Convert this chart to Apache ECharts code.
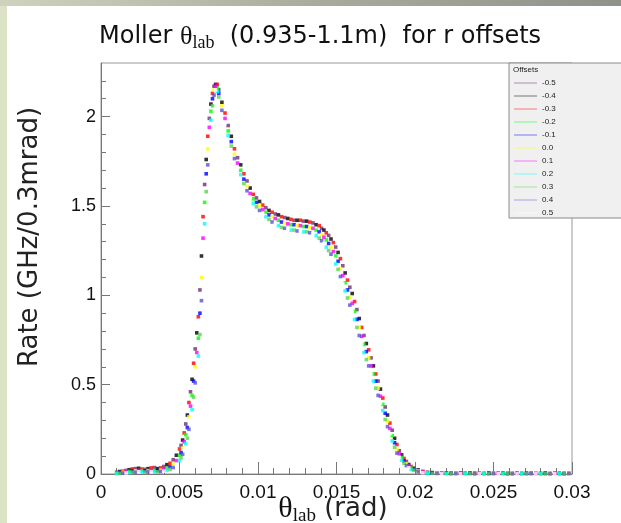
<!DOCTYPE html>
<html>
<head>
<meta charset="utf-8">
<script src="https://cdn.jsdelivr.net/npm/echarts@6/dist/echarts.min.js"></script>
<style>
html, body { margin: 0; padding: 0; background: #fff; }
#chart { width: 621px; height: 523px; }
</style>
</head>
<body>
<div id="chart"></div>
<script>
// r offsets (legend order) and their marker colours
var offsets = ['-0.5', '-0.4', '-0.3', '-0.2', '-0.1', '0.0', '0.1', '0.2', '0.3', '0.4', '0.5'];
var offsetColors = ['#6e2f6e', '#000000', '#ff0000', '#00ff00', '#0000ff', '#ffff00',
                    '#ff00ff', '#00ffff', '#59d454', '#5954d8', '#ffffff'];

// theta_lab (rad) where the curve was read
var theta = [
    0.0010, 0.0012, 0.0014, 0.0016, 0.0018, 0.0020, 0.0022, 0.0024, 0.0026, 0.0028,
    0.0030, 0.0032, 0.0034, 0.0036, 0.0038, 0.0040, 0.0042, 0.0044, 0.0046, 0.0048, 0.0050,
    0.0051, 0.0052, 0.0053, 0.0054, 0.0055, 0.0056, 0.0057, 0.0058, 0.0059, 0.0060,
    0.0061, 0.0062, 0.0063, 0.0064, 0.0065, 0.0066, 0.0067, 0.0068, 0.0069, 0.0070,
    0.0071, 0.0072, 0.0073, 0.0074, 0.0075,
    0.0077, 0.0079, 0.0081, 0.0083, 0.0085, 0.0087, 0.0089, 0.0091, 0.0093, 0.0095,
    0.0097, 0.0099, 0.0101, 0.0103, 0.0105, 0.0107, 0.0109, 0.0111, 0.0113, 0.0115,
    0.0117, 0.0119, 0.0121, 0.0123, 0.0125, 0.0127, 0.0129, 0.0131, 0.0133, 0.0135, 0.0137, 0.0139,
    0.01405, 0.0142, 0.01435, 0.0145, 0.01465, 0.0148, 0.01495, 0.0151, 0.01525, 0.0154,
    0.01555, 0.0157, 0.01585, 0.0160, 0.01615, 0.0163, 0.01645, 0.0166, 0.01675, 0.0169,
    0.01705, 0.0172, 0.01735, 0.0175, 0.01765, 0.0178, 0.01795, 0.0181, 0.01825, 0.0184,
    0.01855, 0.0187, 0.01885, 0.0190, 0.01915, 0.0193, 0.01945, 0.0196, 0.01975,
    0.0199, 0.0202, 0.0205, 0.0208, 0.0211, 0.0214, 0.0217, 0.0220, 0.0223, 0.0226,
    0.0229, 0.0232, 0.0235, 0.0238, 0.0241, 0.0244, 0.0247, 0.0250, 0.0253, 0.0256,
    0.0259, 0.0262, 0.0265, 0.0268, 0.0271, 0.0274, 0.0277, 0.0280, 0.0283, 0.0286,
    0.0289, 0.0292, 0.0295, 0.0298
];

// rate (GHz/0.3mrad): upper edge of the band (negative offsets)
var rateHigh = [
    0.010, 0.014, 0.016, 0.020, 0.024, 0.028, 0.030, 0.032, 0.028, 0.026,
    0.030, 0.034, 0.036, 0.030, 0.034, 0.042, 0.052, 0.060, 0.080, 0.105, 0.140,
    0.16, 0.19, 0.23, 0.28, 0.33, 0.40, 0.46, 0.53, 0.62, 0.70,
    0.79, 0.88, 1.03, 1.22, 1.44, 1.62, 1.76, 1.89, 1.99, 2.07,
    2.13, 2.17, 2.18, 2.18, 2.15,
    2.08, 2.02, 1.95, 1.89, 1.82, 1.77, 1.73, 1.68, 1.64, 1.60,
    1.565, 1.545, 1.525, 1.505, 1.49, 1.475, 1.465, 1.455, 1.45, 1.44,
    1.435, 1.43, 1.425, 1.42, 1.42, 1.42, 1.415, 1.415, 1.41, 1.405, 1.395, 1.39,
    1.375, 1.365, 1.35, 1.335, 1.315, 1.295, 1.27, 1.24, 1.205, 1.165,
    1.125, 1.085, 1.045, 1.01, 0.965, 0.92, 0.87, 0.82, 0.775, 0.73,
    0.695, 0.65, 0.605, 0.56, 0.52, 0.475, 0.425, 0.375, 0.33, 0.285,
    0.245, 0.20, 0.165, 0.13, 0.107, 0.087, 0.07, 0.053, 0.042,
    0.034, 0.023, 0.015, 0.010, 0.008, 0.007, 0.006, 0.006, 0.005, 0.006,
    0.005, 0.005, 0.006, 0.005, 0.005, 0.004, 0.005, 0.006, 0.005, 0.005,
    0.004, 0.005, 0.005, 0.004, 0.005, 0.005, 0.004, 0.004, 0.005, 0.004,
    0.005, 0.004, 0.004, 0.005
];

// rate: middle of the band
var rateMid = [
    0.005, 0.008, 0.010, 0.012, 0.014, 0.016, 0.018, 0.020, 0.019, 0.018,
    0.019, 0.020, 0.021, 0.020, 0.022, 0.026, 0.032, 0.040, 0.055, 0.075, 0.105,
    0.12, 0.145, 0.18, 0.22, 0.26, 0.32, 0.38, 0.44, 0.52, 0.60,
    0.68, 0.76, 0.90, 1.10, 1.32, 1.52, 1.68, 1.82, 1.94, 2.03,
    2.10, 2.15, 2.17, 2.16, 2.13,
    2.06, 1.99, 1.92, 1.86, 1.79, 1.74, 1.70, 1.65, 1.61, 1.57,
    1.54, 1.52, 1.50, 1.48, 1.465, 1.45, 1.44, 1.43, 1.42, 1.41,
    1.405, 1.40, 1.395, 1.395, 1.39, 1.39, 1.385, 1.385, 1.38, 1.375, 1.365, 1.355,
    1.34, 1.325, 1.31, 1.29, 1.27, 1.245, 1.22, 1.19, 1.15, 1.11,
    1.07, 1.03, 0.99, 0.955, 0.91, 0.865, 0.82, 0.77, 0.725, 0.685,
    0.65, 0.605, 0.56, 0.52, 0.48, 0.435, 0.39, 0.34, 0.295, 0.255,
    0.215, 0.175, 0.14, 0.112, 0.092, 0.073, 0.058, 0.044, 0.034,
    0.027, 0.017, 0.011, 0.008, 0.006, 0.005, 0.004, 0.004, 0.003, 0.004,
    0.003, 0.003, 0.004, 0.003, 0.003, 0.002, 0.003, 0.004, 0.003, 0.003,
    0.002, 0.003, 0.003, 0.002, 0.003, 0.003, 0.002, 0.002, 0.003, 0.002,
    0.003, 0.002, 0.002, 0.003
];

// rate: lower edge of the band (positive offsets)
var rateLow = [
    0.002, 0.004, 0.005, 0.006, 0.008, 0.010, 0.010, 0.012, 0.012, 0.011,
    0.012, 0.012, 0.013, 0.012, 0.014, 0.016, 0.020, 0.026, 0.036, 0.052, 0.075,
    0.09, 0.11, 0.14, 0.17, 0.20, 0.25, 0.31, 0.36, 0.43, 0.51,
    0.58, 0.66, 0.78, 0.97, 1.18, 1.40, 1.58, 1.73, 1.87, 1.98,
    2.06, 2.12, 2.15, 2.14, 2.11,
    2.035, 1.965, 1.895, 1.835, 1.765, 1.715, 1.675, 1.625, 1.585, 1.545,
    1.515, 1.495, 1.475, 1.455, 1.44, 1.425, 1.41, 1.40, 1.39, 1.38,
    1.375, 1.37, 1.365, 1.365, 1.36, 1.36, 1.355, 1.355, 1.35, 1.345, 1.335, 1.32,
    1.305, 1.29, 1.27, 1.25, 1.23, 1.205, 1.175, 1.145, 1.105, 1.065,
    1.025, 0.985, 0.945, 0.91, 0.865, 0.82, 0.775, 0.725, 0.68, 0.64,
    0.605, 0.56, 0.52, 0.48, 0.44, 0.395, 0.355, 0.305, 0.265, 0.225,
    0.185, 0.15, 0.117, 0.093, 0.077, 0.06, 0.047, 0.035, 0.027,
    0.021, 0.012, 0.007, 0.005, 0.004, 0.003, 0.002, 0.002, 0.002, 0.002,
    0.001, 0.002, 0.002, 0.001, 0.002, 0.001, 0.001, 0.002, 0.001, 0.002,
    0.001, 0.001, 0.002, 0.001, 0.001, 0.002, 0.001, 0.001, 0.002, 0.001,
    0.001, 0.001, 0.001, 0.002
];

var yMajorTicks = [0, 0.5, 1, 1.5, 2];
var yMinorTicks = [0.1, 0.2, 0.3, 0.4, 0.6, 0.7, 0.8, 0.9, 1.1, 1.2, 1.3, 1.4,
                   1.6, 1.7, 1.8, 1.9, 2.1, 2.2];

// which offsets sit on which edge of the band
var bands = [
    { rate: rateHigh, members: [0, 1, 2] },
    { rate: rateMid, members: [3, 4, 5, 6] },
    { rate: rateLow, members: [7, 8, 9, 10] }
];

var seriesData = offsets.map(function () { return []; });
bands.forEach(function (b) {
    for (var i = 0; i < theta.length; i++) {
        var k = b.members[i % b.members.length];
        seriesData[k].push([theta[i], b.rate[i]]);
    }
});

var axisGrey = '#777';
var tickFont = 'Liberation Sans';

var series = offsets.map(function (name, k) {
    return {
        name: name,
        type: 'scatter',
        symbol: 'rect',
        symbolSize: 3.6,
        itemStyle: { color: offsetColors[k] },
        data: seriesData[k]
    };
});

var option = {
    animation: false,
    backgroundColor: '#ffffff',
    title: {
        text: 'Moller {th|θ}{sub|lab}  (0.935-1.1m)  for r offsets',
        left: 99,
        top: 22,
        padding: 0,
        textStyle: {
            fontFamily: 'DejaVu Sans',
            fontSize: 24,
            fontWeight: 'normal',
            color: '#111',
            rich: {
                th: { fontFamily: 'Liberation Serif', fontSize: 26, color: '#111' },
                sub: { fontFamily: 'Liberation Serif', fontSize: 18, color: '#111', padding: [12, 0, 0, 0] }
            }
        }
    },
    legend: {
        data: offsets.map(function (n) { return { name: n, icon: 'rect' }; }),
        orient: 'vertical',
        left: 514,
        top: 78,
        padding: 0,
        itemWidth: 23,
        itemHeight: 1,
        itemGap: 3,
        selectedMode: false,
        z: 12,
        itemStyle: { opacity: 0.5 },
        textStyle: { fontFamily: tickFont, fontSize: 8, lineHeight: 10, color: '#222' }
    },
    grid: {
        left: 101,
        right: 49,
        top: 63,
        bottom: 49,
        show: true,
        borderColor: '#999',
        borderWidth: 1,
        backgroundColor: 'transparent'
    },
    xAxis: {
        type: 'value',
        min: 0,
        max: 0.03,
        interval: 0.005,
        axisLine: { show: true, onZero: false, lineStyle: { color: axisGrey } },
        axisTick: { inside: true, length: 12, lineStyle: { color: axisGrey } },
        minorTick: { show: true, splitNumber: 5, length: 6, lineStyle: { color: axisGrey } },
        splitLine: { show: false },
        axisLabel: { fontFamily: tickFont, fontSize: 19, color: '#111', margin: 9 }
    },
    yAxis: [{
        type: 'value',
        position: 'left',
        min: 0,
        max: 2.3,
        axisLine: { show: true, lineStyle: { color: axisGrey } },
        axisTick: { show: true, inside: true, length: 9, customValues: yMajorTicks, lineStyle: { color: axisGrey } },
        splitLine: { show: false },
        axisLabel: { customValues: yMajorTicks, fontFamily: tickFont, fontSize: 18, color: '#111', margin: 5 }
    }, {
        type: 'value',
        position: 'left',
        min: 0,
        max: 2.3,
        axisLine: { show: false },
        axisTick: { show: true, inside: true, length: 5, customValues: yMinorTicks, lineStyle: { color: axisGrey } },
        splitLine: { show: false },
        axisLabel: { show: false }
    }],
    graphic: [
        { type: 'rect', z: 20, silent: true, shape: { x: 0, y: 0, width: 7, height: 523 }, style: { fill: '#dce2c6' } },
        { type: 'rect', z: 20, silent: true, shape: { x: 0, y: 0, width: 621, height: 6 },
          style: { fill: new echarts.graphic.LinearGradient(0, 0, 1, 0, [
              { offset: 0, color: '#cfd3bd' }, { offset: 0.5, color: '#a9ac9c' }, { offset: 1, color: '#8f9289' }]) } },
        { type: 'rect', z: 10, silent: true, shape: { x: 509, y: 63, width: 120, height: 155 },
          style: { fill: '#f0f0f0', stroke: '#8a8a8a', lineWidth: 1 } },
        { type: 'text', z: 11, silent: true, x: 513, y: 66,
          style: { text: 'Offsets', fontFamily: tickFont, fontSize: 8, fill: '#222' } },
        { type: 'text', z: 11, silent: true, x: 30, y: 237, rotation: Math.PI / 2,
          style: { text: 'Rate (GHz/0.3mrad)', fontFamily: 'DejaVu Sans', fontSize: 26, fill: '#222',
                   align: 'center', verticalAlign: 'middle' } },
        { type: 'text', z: 11, silent: true, x: 333, y: 509,
          style: {
              text: '{th|θ}{sub|lab}{n| (rad)}',
              align: 'center', verticalAlign: 'middle',
              rich: {
                  th: { fontFamily: 'Liberation Serif', fontSize: 30, fill: '#111' },
                  sub: { fontFamily: 'Liberation Serif', fontSize: 19, fill: '#111', padding: [14, 0, 0, 0] },
                  n: { fontFamily: 'DejaVu Sans', fontSize: 26, fill: '#222' }
              }
          } }
    ],
    series: series
};

var myChart = echarts.init(document.getElementById('chart'), null, { renderer: 'canvas' });
myChart.setOption(option);
</script>
</body>
</html>
